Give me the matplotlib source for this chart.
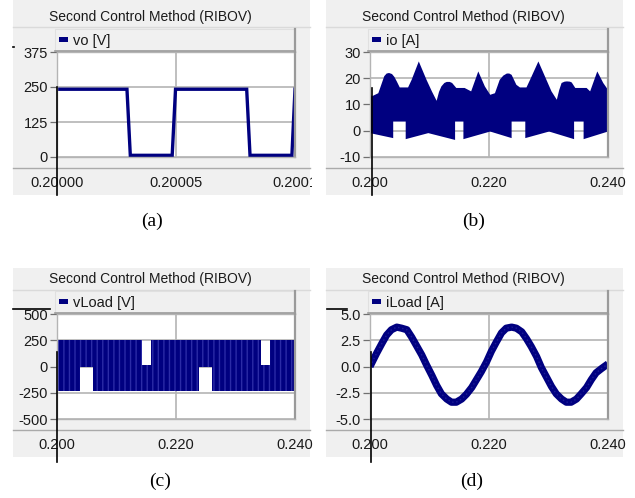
import matplotlib
matplotlib.use("Agg")
import matplotlib.pyplot as plt
from matplotlib.patches import Rectangle
from matplotlib.lines import Line2D
from matplotlib.transforms import Bbox, TransformedBbox
import numpy as np

# ---------------- data ----------------
TITLE = "Second Control Method (RIBOV)"
captions = ["(a)", "(b)", "(c)", "(d)"]
legend_labels = ["vo [V]", "io [A]", "vLoad [V]", "iLoad [A]"]

# (a) output voltage vo
vo_t = [0.200000, 0.2000294, 0.2000308, 0.2000484, 0.2000498, 0.2000797, 0.2000811, 0.2000987, 0.2001]
vo_v = [242, 242, 6, 6, 242, 242, 6, 6, 242]
a_xticks = [0.2, 0.20005, 0.2001]
a_xticklabels = ["0.20000", "0.20005", "0.2001"]
a_yticks = [0, 125, 250, 375]

# (b) output current io: upper and lower envelope of switching band
io_up_t = [0.2000, 0.2003, 0.2014, 0.2020, 0.2024, 0.2028, 0.2032, 0.2037, 0.2041, 0.2045,
           0.2050, 0.2064, 0.2070, 0.2082, 0.2095, 0.2104, 0.2112, 0.2116, 0.2120, 0.2125,
           0.2129, 0.2134, 0.2138, 0.2145, 0.2159, 0.2170, 0.2182, 0.2193, 0.2202, 0.2210,
           0.2218, 0.2224, 0.2230, 0.2234, 0.2238, 0.2246, 0.2252, 0.2263, 0.2269, 0.2283,
           0.2294, 0.2305, 0.2314, 0.2318, 0.2322, 0.2327, 0.2331, 0.2336, 0.2339, 0.2345,
           0.2364, 0.2370, 0.2382, 0.2392, 0.2400]
io_up_v = [14.3, 13.1, 14.3, 18.2, 20.8, 21.8, 22.0, 21.6, 20.5, 18.8,
           16.5, 16.5, 19.4, 26.4, 19.4, 15.0, 11.4, 14.8, 16.9, 18.2,
           18.6, 18.6, 18.2, 16.3, 16.3, 15.0, 22.6, 16.9, 13.7, 14.3,
           19.4, 21.0, 21.8, 21.8, 21.3, 17.5, 16.5, 16.5, 19.4, 26.4,
           20.7, 15.0, 11.8, 15.5, 18.2, 18.7, 18.8, 18.7, 18.4, 16.3,
           16.3, 15.0, 22.6, 18.2, 15.6]
io_lo_t = [0.2000, 0.2039, 0.2039, 0.2060, 0.2060, 0.2098, 0.2143, 0.2143, 0.2157, 0.2157,
           0.2202, 0.2238, 0.2238, 0.2261, 0.2261, 0.2301, 0.2343, 0.2343, 0.2359, 0.2359,
           0.2400]
io_lo_v = [-0.9, -2.8, 3.5, 3.5, -3.2, -0.9, -3.5, 3.5, 3.5, -3.2,
           -0.3, -2.8, 3.5, 3.5, -2.8, -0.3, -3.2, 3.5, 3.5, -3.2,
           -0.3]
b_yticks = [-10, 0, 10, 20, 30]

# (c) load voltage vLoad: upper and lower edge of PWM band
vl_up_t = [0.2000, 0.21423, 0.21423, 0.2158, 0.2158, 0.23429, 0.23429, 0.2358, 0.2358, 0.2400]
vl_up_v = [250, 250, 12, 12, 250, 250, 12, 12, 250, 250]
vl_lo_t = [0.2000, 0.20387, 0.20387, 0.2061, 0.2061, 0.22387, 0.22387, 0.2261, 0.2261, 0.2400]
vl_lo_v = [-236, -236, -8, -8, -236, -236, -8, -8, -236, -236]
c_yticks = [-500, -250, 0, 250, 500]

# (d) load current iLoad
il_t = [0.2000, 0.2011, 0.2020, 0.2028, 0.2036, 0.2045, 0.2053, 0.2062, 0.2070, 0.2078,
        0.2087, 0.2095, 0.2104, 0.2112, 0.2120, 0.2129, 0.2137, 0.2145, 0.2154, 0.2162,
        0.2171, 0.2179, 0.2187, 0.2196, 0.2204, 0.2213, 0.2221, 0.2229, 0.2238, 0.2246,
        0.2255, 0.2263, 0.2271, 0.2280, 0.2288, 0.2297, 0.2305, 0.2313, 0.2322, 0.2330,
        0.2338, 0.2347, 0.2355, 0.2364, 0.2372, 0.2380, 0.2389, 0.2400]
il_v = [0.0, 1.25, 2.2, 3.0, 3.5, 3.75, 3.65, 3.5, 2.8, 2.0,
        1.1, 0.15, -0.85, -1.8, -2.6, -3.1, -3.4, -3.4, -3.1, -2.65,
        -2.0, -1.25, -0.5, 0.45, 1.45, 2.4, 3.2, 3.65, 3.75, 3.65,
        3.3, 2.65, 1.9, 0.95, -0.1, -1.05, -1.9, -2.6, -3.1, -3.4,
        -3.4, -3.1, -2.6, -2.0, -1.25, -0.6, -0.2, 0.25]
d_yticks = [-5.0, -2.5, 0.0, 2.5, 5.0]
ms_xticks = [0.200, 0.220, 0.240]
ms_xticklabels = ["0.200", "0.220", "0.240"]

# ---------------- style ----------------
NAVY = "#000080"
PANEL = "#f0f0f0"
GRID = "#b4b4b4"
TXT = "#1a1a1a"
SANS = ["Liberation Sans", "DejaVu Sans"]
SERIF = ["Liberation Serif", "DejaVu Serif"]

W, H = 635, 498
fig = plt.figure(figsize=(W / 100, H / 100), dpi=100)
fig.patch.set_facecolor("white")


def fx(x):
    return x / W


def fy(y):
    return 1 - y / H


def frect(x0, y0, x1, y1, **kw):
    fig.patches.append(Rectangle((fx(x0), fy(y1)), fx(x1) - fx(x0), fy(y0) - fy(y1),
                                 transform=fig.transFigure, figure=fig, **kw))


def fline(x0, y0, x1, y1, **kw):
    fig.lines.append(Line2D([fx(x0), fx(x1)], [fy(y0), fy(y1)],
                            transform=fig.transFigure, figure=fig, **kw))


def make_panel(ox, oy, top_row, title_cx, legend_text, clip_right):
    gtop = -10 if top_row else 6
    # gray frame
    frect(ox + 13, oy + gtop, ox + 310, oy + 195, facecolor=PANEL, edgecolor="none", zorder=-2)
    # title
    fig.text(fx(ox + title_cx), fy(oy + 17), TITLE, ha="center", va="center",
             fontsize=10, family=SANS, color=TXT, zorder=4)
    fline(ox + 13, oy + 27.5, ox + 310, oy + 27.5, color="#dadada", lw=1.0, zorder=-1)
    # legend band
    frect(ox + 55, oy + 29, ox + 295, oy + 51, facecolor="#f0f0f0", edgecolor="#e0e0e0",
          lw=0.8, zorder=-1)
    frect(ox + 59, oy + 37, ox + 68, oy + 42, facecolor=NAVY, edgecolor="none", zorder=4)
    fig.text(fx(ox + 73), fy(oy + 41), legend_text, ha="left", va="center",
             fontsize=10.5, family=SANS, color=TXT, zorder=4)
    # axis separator line
    fline(ox + 13, oy + 168, ox + 310, oy + 168, color="#aaaaaa", lw=1.0, zorder=-1)
    # plot axes
    ax = fig.add_axes([fx(ox + 57), fy(oy + 157), fx(238), (157 - 52) / H])
    ax.set_zorder(3)
    ax.set_facecolor("white")
    for s in ["left", "bottom", "top"]:
        ax.spines[s].set_color(GRID)
        ax.spines[s].set_linewidth(1.0)
    ax.spines["right"].set_color("#9a9a9a")
    ax.spines["right"].set_linewidth(1.6)
    ax.grid(True, color=GRID, lw=1.2)
    ax.set_axisbelow(True)
    ax.tick_params(axis="y", length=5, width=0.9, color="#707070", pad=1.5,
                   labelsize=10.5, labelcolor=TXT)
    ax.tick_params(axis="x", length=0, pad=13.5, labelsize=10.5, labelcolor=TXT)
    # legend band borders (right and bottom, darker)
    fline(ox + 295, oy + 29, ox + 295, oy + 52, color="#9a9a9a", lw=1.6, zorder=4)
    fline(ox + 55, oy + 50.8, ox + 295, oy + 50.8, color="#9a9a9a", lw=1.2, zorder=4)
    clip = TransformedBbox(Bbox([[fx(ox + 5), fy(oy + 198)], [fx(ox + clip_right), fy(oy + 160)]]),
                           fig.transFigure)
    return ax, clip


def set_ticks(ax, clip, xt, xl, yt, yl):
    ax.set_xticks(xt)
    ax.set_xticklabels(xl, family=SANS)
    ax.set_yticks(yt)
    ax.set_yticklabels(yl, family=SANS)
    for lab in ax.get_xticklabels():
        lab.set_clip_box(clip)
        lab.set_clip_on(True)


DX, DY = 313, 262

# (a)
axa, clipa = make_panel(0, 0, True, 150, legend_labels[0], 312)
axa.plot(vo_t, vo_v, color=NAVY, lw=2.4, solid_joinstyle="miter")
axa.set_xlim(0.2, 0.2001)
axa.set_ylim(0, 375)
set_ticks(axa, clipa, a_xticks, a_xticklabels, a_yticks, [str(v) for v in a_yticks])

# (b)
axb, clipb = make_panel(DX, 0, True, 150, legend_labels[1], 322)
axb.fill(np.concatenate([io_up_t, io_lo_t[::-1]]), np.concatenate([io_up_v, io_lo_v[::-1]]),
         color=NAVY, lw=0)
axb.set_xlim(0.2, 0.24)
axb.set_ylim(-10, 30)
set_ticks(axb, clipb, ms_xticks, ms_xticklabels, b_yticks, [str(v) for v in b_yticks])

# (c)
axc, clipc = make_panel(0, DY, False, 150, legend_labels[2], 322)
axc.fill(np.concatenate([vl_up_t, vl_lo_t[::-1]]), np.concatenate([vl_up_v, vl_lo_v[::-1]]),
         facecolor=NAVY, edgecolor="#2b2ba6", hatch="|||", lw=0)
axc.set_xlim(0.2, 0.24)
axc.set_ylim(-500, 500)
set_ticks(axc, clipc, ms_xticks, ms_xticklabels, c_yticks, [str(v) for v in c_yticks])

# (d)
axd, clipd = make_panel(DX, DY, False, 150, legend_labels[3], 322)
axd.plot(il_t, il_v, color=NAVY, lw=5.2, solid_capstyle="butt")
axd.plot(il_t, il_v, color="#1c1c96", lw=1.0, ls=(0, (1, 2)))
axd.set_xlim(0.2, 0.24)
axd.set_ylim(-5, 5)
set_ticks(axd, clipd, ms_xticks, ms_xticklabels, d_yticks, ["%.1f" % v for v in d_yticks])

# cursor marks
for x0, y0, x1, y1 in [(57, 87, 57, 195), (372, 88, 372, 195), (57, 352, 57, 462),
                       (371, 352, 371, 462), (13, 308.5, 50, 308.5), (327, 308.5, 347, 308.5),
                       (12.5, 46.5, 14, 46.5)]:
    fline(x0, y0, x1, y1, color="black", lw=1.2, zorder=6)

# captions
for (cx, cy), cap in zip([(152, 221), (474, 221), (160, 481), (472, 481)], captions):
    fig.text(fx(cx), fy(cy), cap, ha="center", va="center", fontsize=14, family=SERIF,
             color="black")

fig.savefig("out.png", dpi=100)
